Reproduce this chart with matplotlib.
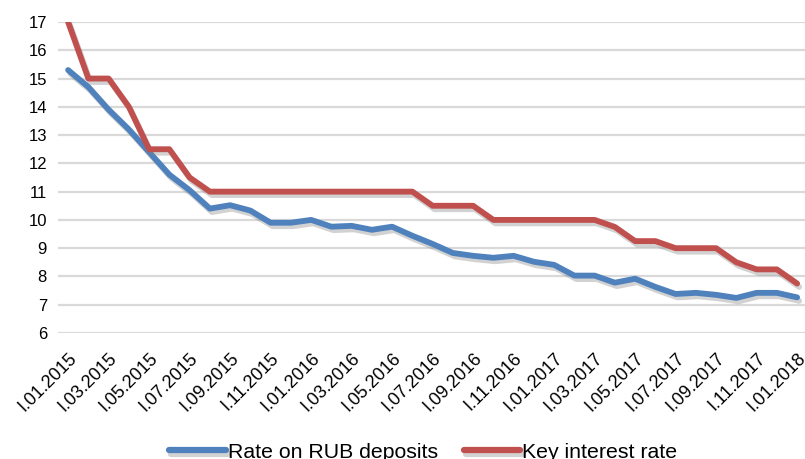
import matplotlib
matplotlib.use("Agg")
import matplotlib.pyplot as plt
import matplotlib.patheffects as pe

# monthly observations, 1.01.2015 .. 1.01.2018
months = [f"I.{m:02d}.{y}" for y in (2015, 2016, 2017) for m in range(1, 13)] + ["I.01.2018"]

deposit_rate = [15.3, 14.7, 13.9, 13.2, 12.4, 11.6, 11.05, 10.4, 10.52, 10.33, 9.9, 9.9,
                10.0, 9.76, 9.79, 9.65, 9.76, 9.44, 9.15, 8.83, 8.73, 8.66, 8.73, 8.52,
                8.41, 8.03, 8.03, 7.78, 7.92, 7.63, 7.38, 7.42, 7.35, 7.24, 7.42, 7.42,
                7.26]
key_rate = [17, 15, 15, 14, 12.5, 12.5, 11.5, 11, 11, 11, 11, 11,
            11, 11, 11, 11, 11, 11, 10.5, 10.5, 10.5, 10, 10, 10,
            10, 10, 10, 9.75, 9.25, 9.25, 9, 9, 9, 8.5, 8.25, 8.25,
            7.75]

BLUE = "#4F81BD"
RED = "#C0504D"

plt.rcParams["font.family"] = ["Liberation Sans", "DejaVu Sans"]

fig = plt.figure(figsize=(8.05, 4.59), dpi=100)
ax = fig.add_axes([58 / 805, 126 / 459, 747 / 805, 311 / 459])

x = list(range(len(months)))
shadow = [pe.SimpleLineShadow(offset=(1.5, -2.5), shadow_color="gray", alpha=0.35), pe.Normal()]
ax.plot(x, deposit_rate, color=BLUE, lw=4.2, solid_joinstyle="round", solid_capstyle="round",
        path_effects=shadow, label="Rate on RUB deposits", zorder=3)
ax.plot(x, key_rate, color=RED, lw=4.2, solid_joinstyle="round", solid_capstyle="round",
        path_effects=shadow, label="Key interest rate", zorder=3)

ax.set_xlim(-0.5, 36.39)
ax.set_ylim(6, 17)
ax.set_yticks(range(6, 18))
ax.set_xticks(x[::2])
ax.set_xticklabels(months[::2], rotation=45, ha="right", rotation_mode="anchor", fontsize=13)
ax.tick_params(axis="y", labelsize=12, length=0, pad=8)
ax.tick_params(axis="x", length=0, pad=12)
ax.grid(axis="y", color="#D9D9D9", lw=1.6)
ax.set_axisbelow(True)
for s in ax.spines.values():
    s.set_visible(False)

# legend sits a little right of centre, close to the bottom edge
leg = fig.legend(loc="center", bbox_to_anchor=(0.526, 7 / 459), ncol=2, frameon=False,
                 fontsize=15.3, handlelength=2.64, handletextpad=0.12, columnspacing=1.2)
for h in leg.get_lines():
    h.set_linewidth(4.5)
    h.set_solid_capstyle("round")

fig.savefig("out.png", dpi=100)
